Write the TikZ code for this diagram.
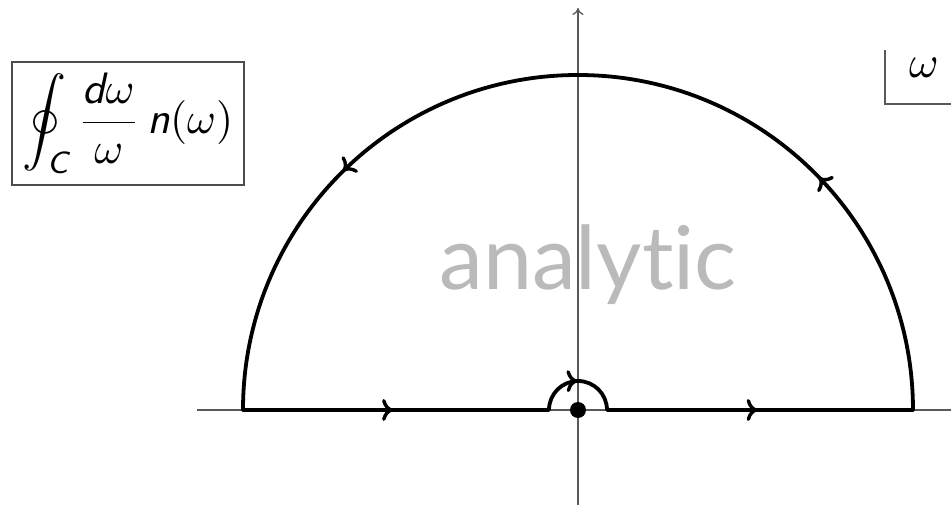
\documentclass[tikz,border=0pt]{standalone}
\usepackage{amsmath}
\usepackage{graphicx}
\usepackage{fontspec}
\newfontfamily\labelfont[Ligatures=NoCommon]{Lato}
\usetikzlibrary{arrows.meta,decorations.markings}
\newcommand{\sfi}[1]{\text{\sffamily\itshape #1}}
\tikzset{
  axisline/.style={draw=black!65, line width=1.3pt},
  contour/.style={draw=black, line width=3.8pt, line join=round},
  formulabox/.style={draw=black!70, line width=1.3pt, minimum width=232pt, minimum height=123pt, inner sep=0pt},
  flowtip/.style={line width=3.4pt},
}
\newcommand{\flowarrow}{\arrow[flowtip]{To[length=11pt,width=22pt]}}
\begin{document}
\begin{tikzpicture}[x=1pt,y=1pt]
\useasboundingbox (-578,-96) rectangle (373,410);
% axes
\coordinate (xl) at (-381,0);
\coordinate (xr) at (373,0);
\coordinate (yb) at (0,-95);
\coordinate (yt) at (0,402);
\draw[axisline] (xl) -- (xr);
\draw[axisline,-{To[length=7pt,width=11pt]}] (yb) -- (yt);
% label analytic
\node[anchor=base, text=black!27, inner sep=0pt] (an) at (10,120) {\labelfont\fontsize{88}{94}\selectfont analytic};
% contour
\draw[contour, postaction={decorate}, decoration={markings,
  mark=at position 0.0855 with {\flowarrow},
  mark=at position 0.200 with {\flowarrow},
  mark=at position 0.312 with {\flowarrow},
  mark=at position 0.5470 with {\flowarrow},
  mark=at position 0.8485 with {\flowarrow}}]
  (-335,0) -- (-29,0) arc[start angle=180,end angle=0,radius=29]
  -- (335,0) arc[start angle=0,end angle=180,radius=335] -- cycle;
% pole
\node[circle, fill=black, minimum size=16pt, inner sep=0pt] (pole) at (0,0) {};
% formula box
\node[formulabox] (formula) at (-450,286.5) {\scalebox{4.4}{$\displaystyle\oint_{\sfi{C}} \frac{\sfi{d}\omega}{\omega}\,\sfi{n}(\omega)$}};
% omega label
\coordinate (wa) at (307,360);
\coordinate (wb) at (307,306);
\coordinate (wc) at (373,306);
\draw[draw=black!65, line width=1.6pt] (wa) -- (wb) -- (wc);
\node (w) at (346,342) {\scalebox{4.5}{$\omega$}};
\end{tikzpicture}
\end{document}
